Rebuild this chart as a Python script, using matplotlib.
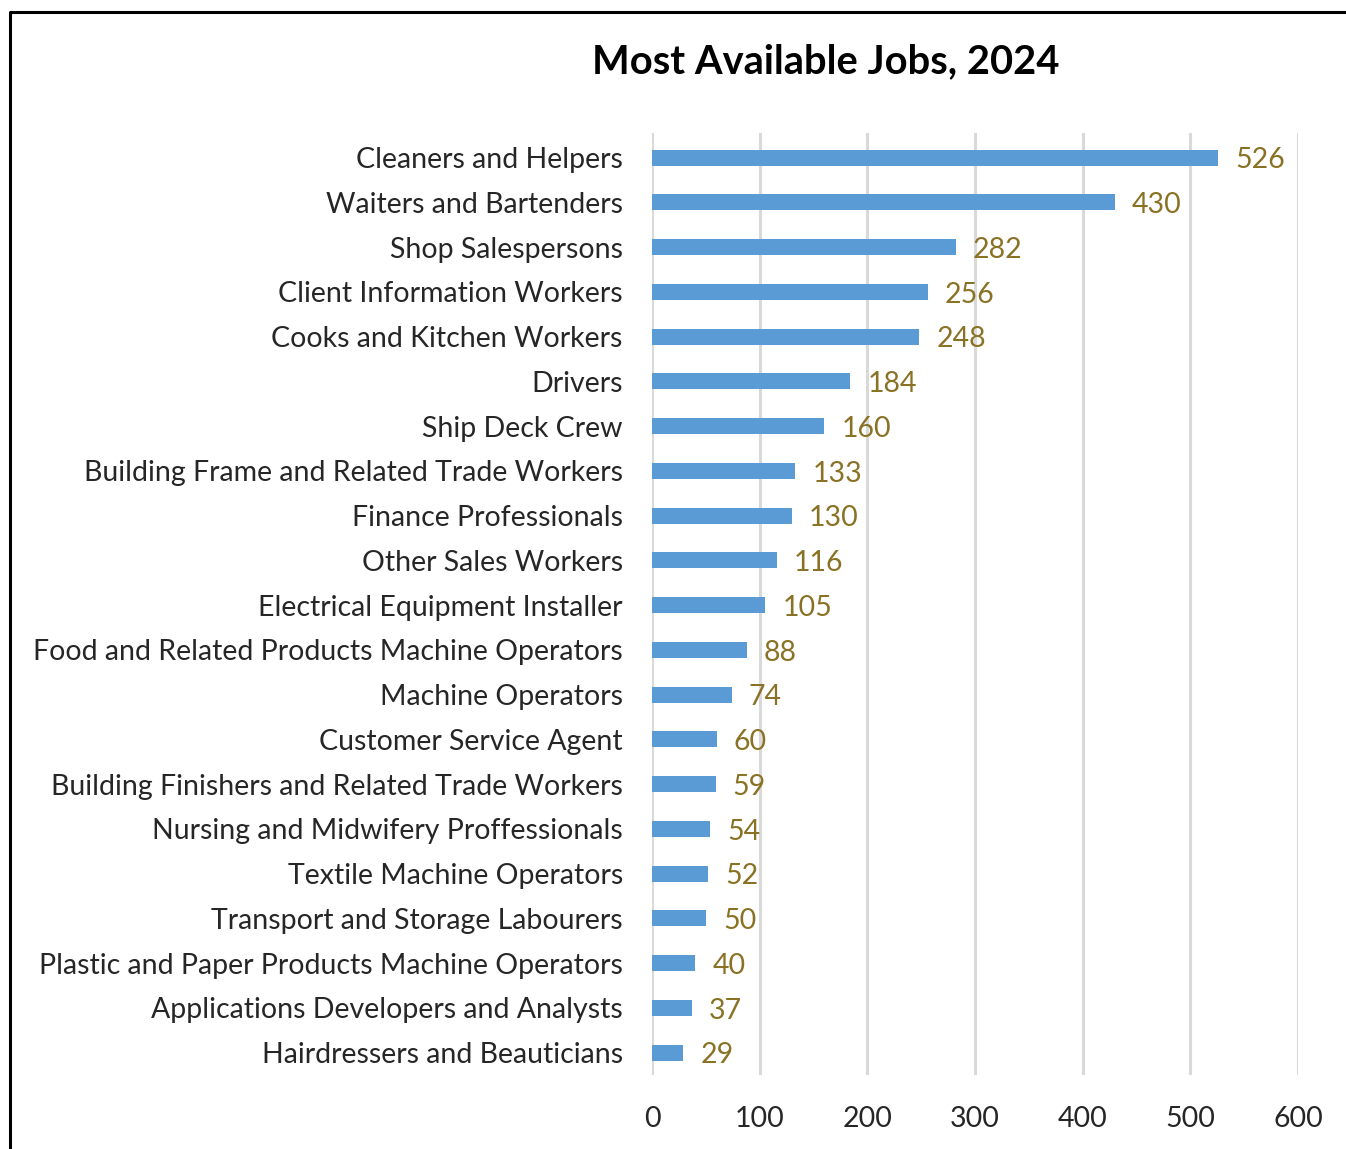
import matplotlib.pyplot as plt
from matplotlib.lines import Line2D

jobs = [
    "Cleaners and Helpers",
    "Waiters and Bartenders",
    "Shop Salespersons",
    "Client Information Workers",
    "Cooks and Kitchen Workers",
    "Drivers",
    "Ship Deck Crew",
    "Building Frame and Related Trade Workers",
    "Finance Professionals",
    "Other Sales Workers",
    "Electrical Equipment Installer",
    "Food and Related Products Machine Operators",
    "Machine Operators",
    "Customer Service Agent",
    "Building Finishers and Related Trade Workers",
    "Nursing and Midwifery Proffessionals",
    "Textile Machine Operators",
    "Transport and Storage Labourers",
    "Plastic and Paper Products Machine Operators",
    "Applications Developers and Analysts",
    "Hairdressers and Beauticians",
]
openings = [526, 430, 282, 256, 248, 184, 160, 133, 130, 116, 105,
            88, 74, 60, 59, 54, 52, 50, 40, 37, 29]
xticks = [0, 100, 200, 300, 400, 500, 600]

plt.rcParams['font.family'] = ['Lato', 'DejaVu Sans']

fig = plt.figure(figsize=(13.46, 11.49), dpi=100)
ax = fig.add_axes([652 / 1346, 1 - 1075 / 1149, 646 / 1346, 942 / 1149])

pos = list(range(len(jobs)))[::-1]
ax.barh(pos, openings, height=0.36, color='#5b9bd5', zorder=3)
for y, v in zip(pos, openings):
    ax.text(v + 16, y - 0.06, str(v), va='center', ha='left',
            fontsize=20.5, color='#8a7225')

ax.set_xlim(0, 600)
ax.set_ylim(-0.5, len(jobs) - 0.45)
ax.set_xticks(xticks)
ax.set_xticklabels([str(t) for t in xticks], fontsize=20.5, color='#262626')
ax.set_yticks(pos)
ax.set_yticklabels(jobs, fontsize=20.5, color='#262626')
ax.tick_params(axis='both', length=0)
ax.tick_params(axis='y', pad=21)
ax.tick_params(axis='x', pad=22)
ax.grid(axis='x', color='#d9d9d9', linewidth=2.2, zorder=0)
for s in ax.spines.values():
    s.set_visible(False)

fig.text(826 / 1346, 1 - 62 / 1149, "Most Available Jobs, 2024",
         ha='center', va='center', fontsize=28.7, fontweight='bold')

# frame around the chart area (top and left edges)
fig.add_artist(Line2D([10 / 1346, 10 / 1346, 1.0], [0.0, 1 - 12 / 1149, 1 - 12 / 1149],
                      transform=fig.transFigure, color='black', linewidth=2.2))

fig.savefig('out.png', dpi=100)
